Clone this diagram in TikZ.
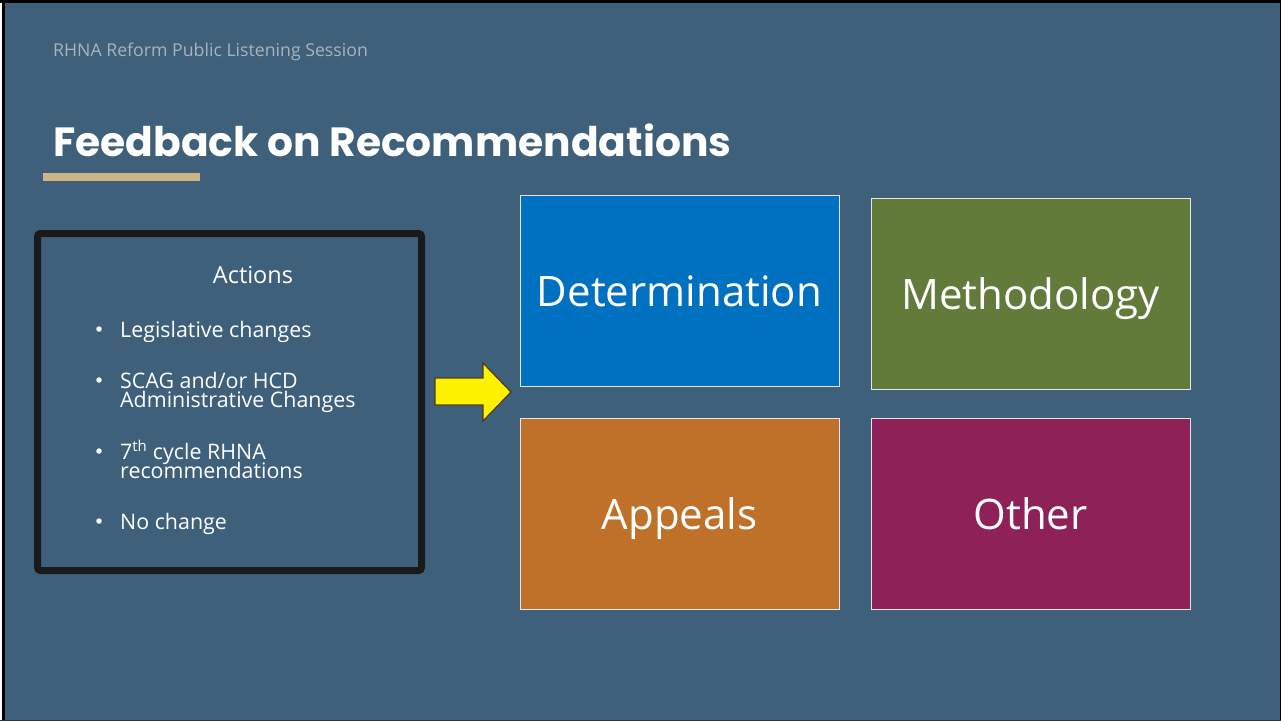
\documentclass[tikz,border=0pt]{standalone}
\usepackage{fontspec}
\setmainfont{Open Sans}
\newfontfamily\titlefont{Poppins}
\definecolor{bg}{HTML}{3E607A}
\definecolor{subgrey}{HTML}{A8B3BD}
\definecolor{gold}{HTML}{CDB584}
\definecolor{boxline}{HTML}{1A1A1A}
\definecolor{detblue}{HTML}{0070C0}
\definecolor{metgreen}{HTML}{637B3A}
\definecolor{appor}{HTML}{BF7129}
\definecolor{othpur}{HTML}{8F2159}
\definecolor{tileline}{HTML}{E6E6E6}
\definecolor{arrline}{HTML}{4C3A1E}
\tikzset{
  tile/.style={draw=tileline, line width=1pt, text=white, inner sep=0pt,
    font=\fontsize{42}{42}\selectfont, text height=31pt, text depth=0pt},
  item/.style={anchor=base west, text=white, inner sep=0pt,
    font=\fontsize{21.4}{21.4}\selectfont, text height=15pt, text depth=3pt},
  bulletdot/.style={circle, fill=white, inner sep=0pt, minimum size=5.5pt}
}
\begin{document}
\begin{tikzpicture}[x=1pt,y=-1pt]
\useasboundingbox (0,0) rectangle (1281,721);
% background and frame
\fill[bg] (0,0) rectangle (1281,721);
\fill[white] (0,0) rectangle (2,721);
\fill[black] (2,0) rectangle (5,721);
\fill[black] (0,0) rectangle (1281,3);
\fill[black] (1279.5,0) rectangle (1281,721);
\fill[black!80] (0,719.5) rectangle (1281,721);
% header
\node[anchor=base west, inner sep=0pt, text=subgrey, font=\fontsize{17.7}{17.7}\selectfont] (sub) at (53,56.5) {RHNA Reform Public Listening Session};
\node[anchor=base west, inner sep=0pt, text=white, font=\titlefont\bfseries\fontsize{40.8}{40.8}\selectfont] (title) at (53,156) {Feedback on Recommendations};
\fill[gold] (43,172.5) rectangle (200,181);
% actions box
\draw[boxline, line width=7pt, rounded corners=3pt] (37.5,233.5) rectangle (421.5,570.5);
\node[anchor=base, text=white, inner sep=0pt, font=\fontsize{23.5}{23.5}\selectfont] (act) at (253,283.3) {Actions};
\node[bulletdot] (b1) at (99,329) {};
\node[item] (i1) at (120,337.3) {Legislative changes};
\node[bulletdot] (b2) at (99,380) {};
\node[item] (i2a) at (120,388.3) {SCAG and/or HCD};
\node[item] (i2b) at (120,407.7) {Administrative Changes};
\node[bulletdot] (b3) at (99,451) {};
\node[item] (i3a) at (120,459) {7\textsuperscript{th} cycle RHNA};
\node[item] (i3b) at (120,478.3) {recommendations};
\node[bulletdot] (b4) at (99,521) {};
\node[item] (i4) at (120,529) {No change};
% arrow
\draw[arrline, line width=1.2pt, fill=yellow, line join=miter]
  (435,378) -- (483,378) -- (483,363) -- (511,392) -- (483,421) -- (483,405) -- (435,405) -- cycle;
% tiles
\node[tile, fill=detblue, minimum width=319pt, minimum height=191pt] (det) at (679.5,290.5) {Determination};
\node[tile, fill=metgreen, minimum width=319pt, minimum height=191pt] (met) at (1030.5,293.5) {Methodology};
\node[tile, fill=appor, minimum width=319pt, minimum height=191pt] (app) at (679.5,513.5) {Appeals};
\node[tile, fill=othpur, minimum width=319pt, minimum height=191pt] (oth) at (1030.5,513.5) {Other};
\end{tikzpicture}
\end{document}
